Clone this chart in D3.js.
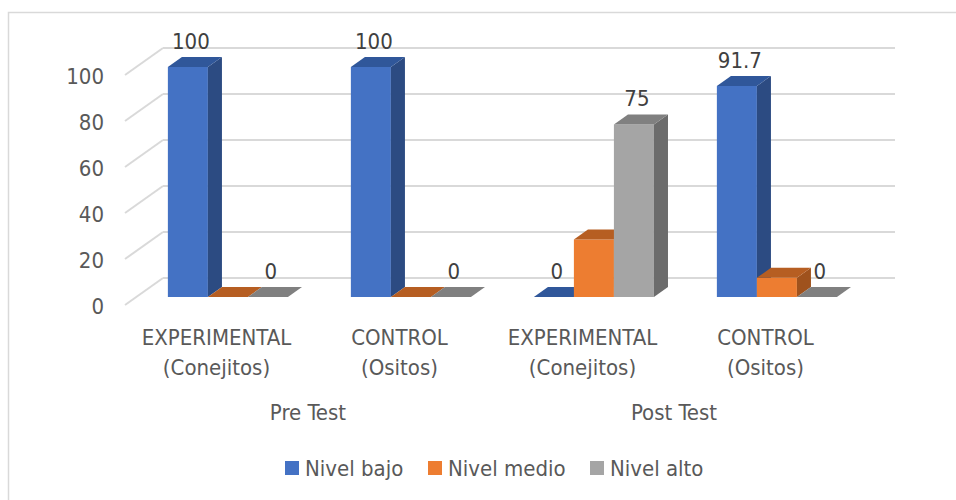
<!DOCTYPE html>
<html>
<head>
<meta charset="utf-8">
<script src="https://cdn.jsdelivr.net/npm/d3@7/dist/d3.min.js"></script>
<style>
  body { margin: 0; background: #fff; }
  text { font-family: "Liberation Sans Narrow", "DejaVu Sans Condensed", sans-serif; fill: #595959; }
</style>
</head>
<body>
<div id="chart"></div>
<script>
// data
var categories = ["EXPERIMENTAL|(Conejitos)", "CONTROL|(Ositos)", "EXPERIMENTAL|(Conejitos)", "CONTROL|(Ositos)"];
var groupLabels = ["Pre Test", "Post Test"];
var seriesNames = ["Nivel bajo", "Nivel medio", "Nivel alto"];
var nivelBajo = [100, 100, 0, 91.7];
var nivelMedio = [0, 0, 25, 8.3];
var nivelAlto = [0, 0, 75, 0];
var yTicks = [0, 20, 40, 60, 80, 100];
// which series carry data labels (medio has none in the original)
var showLabels = [true, false, true];

var seriesValues = [nivelBajo, nivelMedio, nivelAlto];
var colors = [
  { front: "#4472C4", top: "#30579A", side: "#2C4B82" },
  { front: "#ED7D31", top: "#B65E22", side: "#9F521D" },
  { front: "#A5A5A5", top: "#808080", side: "#6C6C6C" }
];

var width = 956, height = 500;
var fontSize = "22px";
var depthX = -38, depthY = 27;   // offset from back wall to front of floor
var zFront = 0.7, zBack = 0.33;  // bar depth inside the floor

var svg = d3.select("#chart").append("svg")
  .attr("width", width)
  .attr("height", height);

// outer chart border (only left/top end up in the frame)
svg.append("rect")
  .attr("x", 8.5).attr("y", 12.5)
  .attr("width", 1000).attr("height", 1000)
  .attr("fill", "none")
  .attr("stroke", "#D9D9D9")
  .attr("stroke-width", 1.5);

var keys = d3.range(categories.length);
var x = d3.scaleBand().domain(keys).range([163, 895]);
var xs = d3.scaleBand().domain(d3.range(seriesNames.length))
  .range([x.bandwidth() * 0.172, x.bandwidth() * 0.828]);
var y = d3.scaleLinear().domain([0, 100]).range([278, 48]);

function proj(xb, v, z) {
  return [xb + depthX * z, y(v) + depthY * z];
}

// back wall gridlines
svg.append("g").selectAll("line")
  .data(yTicks).enter().append("line")
  .attr("x1", x.range()[0]).attr("x2", x.range()[1])
  .attr("y1", function(d) { return y(d); })
  .attr("y2", function(d) { return y(d); })
  .attr("stroke", "#D9D9D9").attr("stroke-width", 2);

// side wall gridlines
svg.append("g").selectAll("line")
  .data(yTicks).enter().append("line")
  .attr("x1", function(d) { return proj(x.range()[0], d, 1)[0]; })
  .attr("y1", function(d) { return proj(x.range()[0], d, 1)[1]; })
  .attr("x2", function(d) { return proj(x.range()[0], d, 0)[0]; })
  .attr("y2", function(d) { return proj(x.range()[0], d, 0)[1]; })
  .attr("stroke", "#D9D9D9").attr("stroke-width", 2);

// y tick labels
svg.append("g").selectAll("text")
  .data(yTicks).enter().append("text")
  .attr("x", proj(x.range()[0], 0, 1)[0] - 21)
  .attr("y", function(d) { return proj(0, d, 1)[1] + 1; })
  .attr("text-anchor", "end")
  .attr("dominant-baseline", "central")
  .style("font-size", fontSize)
  .text(function(d) { return d; });

// bars: front, top, side faces
var bars = [];
keys.forEach(function(c) {
  seriesValues.forEach(function(vals, s) {
    bars.push({ c: c, s: s, v: vals[c] });
  });
});

function pts(list) {
  return list.map(function(p) { return p.join(","); }).join(" ");
}

var barG = svg.append("g").selectAll("g")
  .data(bars).enter().append("g");

barG.each(function(d) {
  var g = d3.select(this);
  var x0 = x(d.c) + xs(d.s), x1 = x0 + xs.bandwidth();
  var col = colors[d.s];
  if (d.v > 0) {
    g.append("polygon")
      .attr("points", pts([proj(x0, 0, zFront), proj(x1, 0, zFront), proj(x1, d.v, zFront), proj(x0, d.v, zFront)]))
      .attr("fill", col.front);
    g.append("polygon")
      .attr("points", pts([proj(x1, 0, zFront), proj(x1, 0, zBack), proj(x1, d.v, zBack), proj(x1, d.v, zFront)]))
      .attr("fill", col.side);
  }
  g.append("polygon")
    .attr("points", pts([proj(x0, d.v, zFront), proj(x1, d.v, zFront), proj(x1, d.v, zBack), proj(x0, d.v, zBack)]))
    .attr("fill", col.top);
});

// data labels
svg.append("g").selectAll("text")
  .data(bars.filter(function(d) { return showLabels[d.s]; }))
  .enter().append("text")
  .attr("x", function(d) { return proj(x(d.c) + xs(d.s) + xs.bandwidth() / 2, d.v, zFront)[0] + 3; })
  .attr("y", function(d) { return proj(0, d.v, zBack)[1] - 8; })
  .attr("text-anchor", "middle")
  .style("font-size", fontSize)
  .style("fill", "#404040")
  .text(function(d) { return d3.format("~g")(d.v); });

// category labels (two lines)
var catG = svg.append("g").selectAll("text")
  .data(keys).enter().append("text")
  .attr("text-anchor", "middle")
  .style("font-size", fontSize);
catG.each(function(c) {
  var t = d3.select(this);
  var cx = x(c) + x.bandwidth() / 2 + depthX;
  categories[c].split("|").forEach(function(line, i) {
    t.append("tspan")
      .attr("x", cx)
      .attr("y", 337 + i * 30)
      .attr("dominant-baseline", "central")
      .text(line);
  });
});

// group labels
svg.append("g").selectAll("text")
  .data(groupLabels).enter().append("text")
  .attr("x", function(d, i) {
    return (x(i * 2) + x(i * 2 + 1)) / 2 + x.bandwidth() / 2 + depthX;
  })
  .attr("y", 412)
  .attr("text-anchor", "middle")
  .attr("dominant-baseline", "central")
  .style("font-size", fontSize)
  .text(function(d) { return d; });

// legend
var legendX = [285, 428, 590];
var legend = svg.append("g").selectAll("g")
  .data(seriesNames).enter().append("g")
  .attr("transform", function(d, i) { return "translate(" + legendX[i] + ",461)"; });
legend.append("rect")
  .attr("width", 14).attr("height", 14)
  .attr("fill", function(d, i) { return colors[i].front; });
legend.append("text")
  .attr("x", 20).attr("y", 7)
  .attr("dominant-baseline", "central")
  .style("font-size", fontSize)
  .text(function(d) { return d; });
</script>
</body>
</html>
